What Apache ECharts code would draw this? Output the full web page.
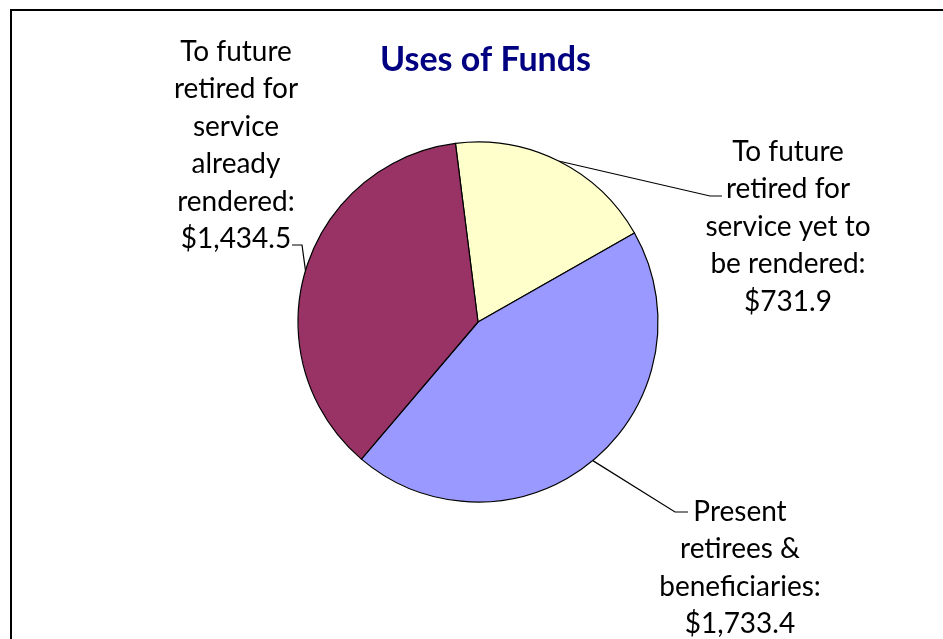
<!DOCTYPE html>
<html>
<head>
<meta charset="utf-8">
<script src="https://cdn.jsdelivr.net/npm/echarts@6/dist/echarts.min.js"></script>
<style>
html,body{margin:0;padding:0;background:#fff;}
#chart{width:943px;height:639px;}
</style>
</head>
<body>
<div id="chart"></div>
<script>
// ---- data ----
var categories = [
  'To future\nretired for\nservice yet to\nbe rendered',
  'Present\nretirees &\nbeneficiaries',
  'To future\nretired for\nservice\nalready\nrendered'
];
var values = [731.9, 1733.4, 1434.5];
var colors = ['#FFFFCC', '#9999FF', '#993366'];

// ---- label layout (positions of label blocks & leader line ends) ----
var labelPlacement = [
  { x: 788, y: 133, bend: [710, 196], end: [722, 196] },
  { x: 740, y: 493, bend: [675, 512], end: [688, 512] },
  { x: 236, y: 33,  bend: [302, 245], end: [292, 245] }
];

var chart = echarts.init(document.getElementById('chart'), null, { renderer: 'canvas' });

function fmt(v) {
  return '$' + v.toLocaleString('en-US', { minimumFractionDigits: 1, maximumFractionDigits: 1 });
}

var option = {
  backgroundColor: '#fff',
  animation: false,
  title: {
    text: 'Uses of Funds',
    left: 375,
    top: 38,
    textStyle: { fontFamily: 'Lato', fontWeight: 'bold', fontSize: 34, color: '#000080' }
  },
  graphic: [{
    type: 'rect',
    shape: { x: 11, y: 10, width: 1200, height: 1200 },
    style: { fill: 'none', stroke: '#000', lineWidth: 2 },
    silent: true
  }],
  series: [{
    type: 'pie',
    center: [478, 322],
    radius: 180,
    startAngle: 97.2,
    clockwise: true,
    data: categories.map(function (c, i) {
      return { name: c, value: values[i], itemStyle: { color: colors[i] } };
    }),
    itemStyle: { borderColor: '#000', borderWidth: 1.2 },
    label: {
      show: true,
      position: 'outside',
      formatter: function (p) { return p.name + ':\n' + fmt(p.value); },
      fontFamily: 'Lato',
      fontSize: 28,
      lineHeight: 37.5,
      color: '#000'
    },
    labelLine: {
      show: true,
      length: 10,
      length2: 10,
      lineStyle: { color: '#000', width: 1.2 }
    },
    labelLayout: function (params) {
      var cfg = labelPlacement[params.dataIndex];
      var p0 = params.labelLinePoints ? params.labelLinePoints[0] : cfg.bend;
      return {
        x: cfg.x,
        y: cfg.y,
        align: 'center',
        verticalAlign: 'top',
        labelLinePoints: [p0, cfg.bend, cfg.end]
      };
    },
    emphasis: { disabled: true }
  }]
};
chart.setOption(option);
</script>
</body>
</html>
